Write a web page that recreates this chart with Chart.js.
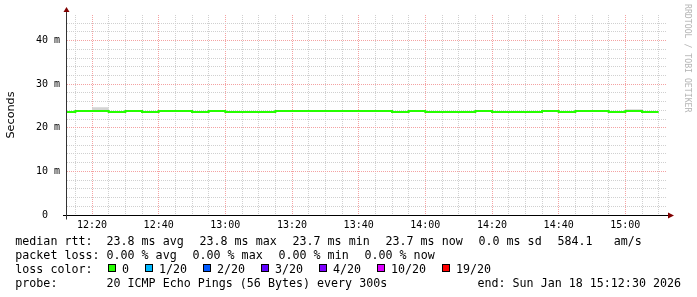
<!DOCTYPE html>
<html>
<head>
<meta charset="utf-8">
<script src="https://cdn.jsdelivr.net/npm/chart.js@4.4.1/dist/chart.umd.min.js"></script>
<style>
  html, body { margin: 0; padding: 0; background: #fff; }
  #wrap { position: relative; width: 697px; height: 297px; overflow: hidden; background: #fff; }
  #myChart { position: absolute; left: 0; top: 0; }
  .t { position: absolute; font-family: 'DejaVu Sans Mono', monospace; font-size: 11.66px; line-height: 14px; white-space: pre; color: #000; }
  .box { position: absolute; top: 264px; width: 6px; height: 6px; border: 1px solid #000; }
  #watermark { position: absolute; left: 693px; top: 4px; transform-origin: 0 0; transform: rotate(90deg);
    font-family: 'DejaVu Sans Mono', monospace; font-size: 8.2px; line-height: 10px; white-space: pre; color: #b4b4b4; }
</style>
</head>
<body>
<div id="wrap">
  <canvas id="myChart" width="697" height="297"></canvas>
  <div id="watermark">RRDTOOL / TOBI OETIKER</div>

  <div class="t" style="left:15.3px; top:234px">median rtt:</div>
  <div class="t" style="left:106.5px; top:234px">23.8 ms avg</div>
  <div class="t" style="left:199.5px; top:234px">23.8 ms max</div>
  <div class="t" style="left:292.5px; top:234px">23.7 ms min</div>
  <div class="t" style="left:385.5px; top:234px">23.7 ms now</div>
  <div class="t" style="left:478.5px; top:234px">0.0 ms sd</div>
  <div class="t" style="left:557.5px; top:234px">584.1   am/s</div>

  <div class="t" style="left:15.3px; top:248px">packet loss:</div>
  <div class="t" style="left:106.5px; top:248px">0.00 % avg</div>
  <div class="t" style="left:192.5px; top:248px">0.00 % max</div>
  <div class="t" style="left:278.5px; top:248px">0.00 % min</div>
  <div class="t" style="left:364.5px; top:248px">0.00 % now</div>

  <div class="t" style="left:15.3px; top:262px">loss color:</div>
  <div class="box" style="left:108px; background:#26ff00"></div><div class="t" style="left:122px; top:262px">0</div>
  <div class="box" style="left:145px; background:#00b8ff"></div><div class="t" style="left:159px; top:262px">1/20</div>
  <div class="box" style="left:203px; background:#0059ff"></div><div class="t" style="left:217px; top:262px">2/20</div>
  <div class="box" style="left:261px; background:#5e00ff"></div><div class="t" style="left:275px; top:262px">3/20</div>
  <div class="box" style="left:319px; background:#7e00ff"></div><div class="t" style="left:333px; top:262px">4/20</div>
  <div class="box" style="left:377px; background:#dd00ff"></div><div class="t" style="left:391px; top:262px">10/20</div>
  <div class="box" style="left:442px; background:#ff0000"></div><div class="t" style="left:456px; top:262px">19/20</div>

  <div class="t" style="left:15.3px; top:276px">probe:</div>
  <div class="t" style="left:106.5px; top:276px">20 ICMP Echo Pings (56 Bytes) every 300s</div>
  <div class="t" style="left:477.5px; top:276px">end: Sun Jan 18 15:12:30 2026</div>
</div>

<script>
"use strict"

const ctx = document.getElementById('myChart')

// rrd rows, each one stamped at the end of its 5 minute step
const times = ['12:10','12:15','12:20','12:25','12:30','12:35','12:40','12:45','12:50','12:55',
               '13:00','13:05','13:10','13:15','13:20','13:25','13:30','13:35','13:40','13:45',
               '13:50','13:55','14:00','14:05','14:10','14:15','14:20','14:25','14:30','14:35',
               '14:40','14:45','14:50','14:55','15:00','15:05','15:10']
// median rtt in ms
const median = [23.66, 23.66, 23.84, 23.84, 23.66, 23.84, 23.66, 23.84, 23.84, 23.66,
                23.84, 23.66, 23.66, 23.66, 23.84, 23.84, 23.84, 23.84, 23.84, 23.84,
                23.84, 23.66, 23.84, 23.66, 23.66, 23.66, 23.84, 23.66, 23.66, 23.66,
                23.84, 23.66, 23.84, 23.84, 23.66, 23.84, 23.66]
// top of the smoke (slowest ping) in ms
const smokeTop = [23.66, 23.66, 23.84, 24.75, 23.66, 23.84, 23.66, 23.84, 23.84, 23.66,
                  23.84, 23.66, 23.66, 23.66, 23.84, 23.84, 23.84, 23.84, 23.84, 23.84,
                  23.84, 23.66, 23.84, 23.66, 23.66, 23.66, 23.84, 23.66, 23.66, 23.66,
                  23.84, 23.66, 23.84, 23.84, 23.66, 24.25, 23.66]

const xStart = '12:12:30'
const xEnd = '15:12:30'
const xTickLabels = ['12:20','12:40','13:00','13:20','13:40','14:00','14:20','14:40','15:00']
const yTickValues = [0, 10, 20, 30, 40]
const yTickLabels = ['0  ', '10 m', '20 m', '30 m', '40 m']

const minorGrid = 'rgb(208,208,208)'
const majorGrid = 'rgb(244,162,162)'
const tickFont = { family: 'DejaVu Sans Mono', size: 10 }

function toMin(s){
  const p = s.split(':').map(Number)
  return p[0] * 60 + p[1] + (p[2] || 0) / 60
}

function fmt(v){
  const h = Math.floor(v / 60)
  const m = Math.round(v % 60)
  return String(h).padStart(2, '0') + ':' + String(m).padStart(2, '0')
}

function gridColor(step){
  return (c) => {
    if(!c.tick) return minorGrid
    return Math.round(c.tick.value) % step === 0 ? majorGrid : minorGrid
  }
}

// axis lines and the little red arrows
const rrdAxes = {
  id: 'rrdAxes',
  afterDatasetsDraw(chart){
    const c = chart.ctx
    const a = chart.chartArea
    const y0 = Math.round(chart.scales.y.getPixelForValue(0)) + 0.5
    const x0 = a.left - 0.5
    c.save()
    c.lineWidth = 1
    c.strokeStyle = '#000'
    c.beginPath()
    c.moveTo(a.left - 4, y0)
    c.lineTo(a.right + 2, y0)
    c.stroke()
    c.strokeStyle = '#333'
    c.beginPath()
    c.moveTo(x0, y0 + 4)
    c.lineTo(x0, 11)
    c.stroke()
    c.fillStyle = '#800000'
    c.beginPath()
    c.moveTo(x0 - 3, 12)
    c.lineTo(x0 + 3, 12)
    c.lineTo(x0, 7)
    c.closePath()
    c.fill()
    c.beginPath()
    c.moveTo(a.right + 1, y0 - 3)
    c.lineTo(a.right + 1, y0 + 3)
    c.lineTo(a.right + 7, y0)
    c.closePath()
    c.fill()
    c.restore()
  }
}

let graph = new Chart(ctx, {
  type: 'line',
  data: {
    datasets: [
      {
        label: 'median rtt',
        data: times.map((t, i) => ({ x: toMin(t), y: median[i] })),
        borderColor: '#26ff00',
        borderWidth: 2,
        stepped: 'after',
        pointRadius: 0,
        fill: false
      },
      {
        label: 'smoke',
        data: times.map((t, i) => ({ x: toMin(t), y: smokeTop[i] })),
        borderColor: 'rgba(0,0,0,0)',
        borderWidth: 0,
        backgroundColor: '#d4d4d4',
        stepped: 'after',
        pointRadius: 0,
        fill: 0
      }
    ]
  },
  options: {
    responsive: false,
    animation: false,
    devicePixelRatio: 1,
    layout: { padding: { top: 15, right: 30, left: 0, bottom: 0 } },
    plugins: {
      legend: { display: false },
      tooltip: { enabled: false }
    },
    scales: {
      x: {
        type: 'linear',
        min: toMin(xStart),
        max: toMin(xEnd),
        afterBuildTicks: (axis) => {
          const ticks = []
          for(let v = Math.ceil(axis.min / 5) * 5; v <= axis.max; v += 5) ticks.push({ value: v })
          axis.ticks = ticks
        },
        afterFit: (axis) => { axis.height = 82 },
        grid: { color: gridColor(20), lineWidth: 1, drawTicks: false },
        border: { display: false, dash: [1, 1] },
        ticks: {
          autoSkip: false,
          maxRotation: 0,
          padding: 4,
          font: tickFont,
          color: '#000',
          callback: (v) => {
            const lbl = fmt(v)
            return xTickLabels.includes(lbl) ? lbl : ''
          }
        }
      },
      y: {
        type: 'linear',
        min: 0,
        max: 45.9,
        afterBuildTicks: (axis) => {
          const ticks = []
          for(let v = 0; v <= axis.max; v += 2) ticks.push({ value: v })
          axis.ticks = ticks
        },
        afterFit: (axis) => { axis.width = 67 },
        grid: { color: gridColor(10), lineWidth: 1, drawTicks: false },
        border: { display: false, dash: [1, 1] },
        ticks: {
          autoSkip: false,
          padding: 7,
          font: tickFont,
          color: '#000',
          callback: (v) => {
            const i = yTickValues.indexOf(v)
            return i >= 0 ? yTickLabels[i] : ''
          }
        },
        title: {
          display: true,
          text: 'Seconds',
          color: '#000',
          font: { family: 'DejaVu Sans', size: 11.2 },
          padding: { top: 4, bottom: 0 }
        }
      }
    }
  },
  plugins: [rrdAxes]
})
</script>
</body>
</html>
